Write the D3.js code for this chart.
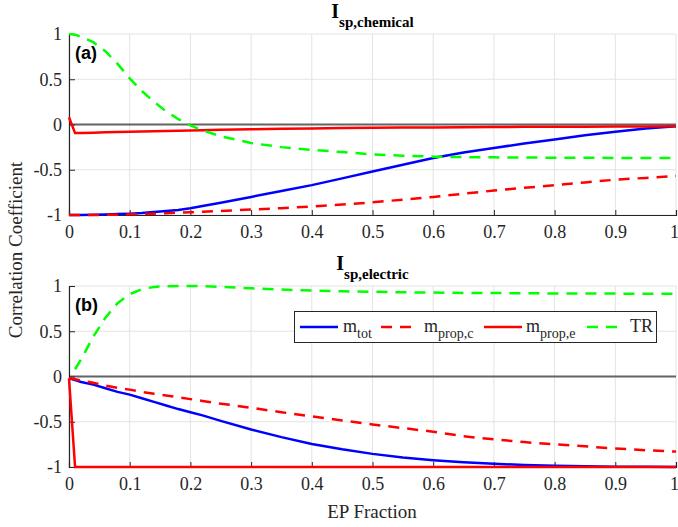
<!DOCTYPE html>
<html>
<head>
<meta charset="utf-8">
<script src="https://cdn.jsdelivr.net/npm/d3@7"></script>
<style>
  body { margin: 0; background: #fff; }
  text { font-family: 'Liberation Serif', 'Times New Roman', serif; fill: #262626; }
  .tick text { font-family: 'Liberation Serif', 'Times New Roman', serif !important; font-size: 18px; }
</style>
</head>
<body>
<div id="chart"></div>
<script>
// EP fraction sample points (shared by both panels)
var epFraction = [0, 0.01, 0.02, 0.04, 0.06, 0.08, 0.1, 0.12, 0.14, 0.16, 0.18, 0.2, 0.22, 0.25,
  0.3, 0.35, 0.4, 0.45, 0.5, 0.55, 0.6, 0.65, 0.7, 0.75, 0.8, 0.85, 0.9, 0.95, 1];

// Panel (a): Isp,chemical
var mTotChem = [-1, -1, -1, -0.998, -0.995, -0.99, -0.985, -0.978, -0.968, -0.957, -0.944, -0.925, -0.9, -0.865,
  -0.8, -0.735, -0.67, -0.595, -0.52, -0.445, -0.37, -0.31, -0.26, -0.21, -0.165, -0.12, -0.08, -0.045, -0.02];
var mPropCChem = [-1, -1, -1, -1, -0.998, -0.996, -0.993, -0.99, -0.985, -0.98, -0.975, -0.97, -0.965, -0.955,
  -0.94, -0.925, -0.905, -0.885, -0.86, -0.83, -0.8, -0.765, -0.73, -0.7, -0.67, -0.64, -0.61, -0.59, -0.57];
var mPropEChem = [0.08, -0.095, -0.093, -0.09, -0.087, -0.084, -0.081, -0.078, -0.075, -0.072, -0.069, -0.066, -0.063, -0.059,
  -0.053, -0.048, -0.044, -0.04, -0.037, -0.034, -0.032, -0.03, -0.028, -0.026, -0.025, -0.024, -0.023, -0.022, -0.02];
var trChem = [1, 0.993, 0.968, 0.91, 0.81, 0.67, 0.51, 0.37, 0.25, 0.145, 0.06, -0.01, -0.065, -0.13,
  -0.205, -0.25, -0.28, -0.305, -0.33, -0.345, -0.355, -0.36, -0.363, -0.365, -0.367, -0.368, -0.369, -0.37, -0.37];

// Panel (b): Isp,electric
var mTotElec = [-0.02, -0.04, -0.06, -0.09, -0.13, -0.17, -0.2, -0.24, -0.28, -0.32, -0.36, -0.395, -0.43, -0.49,
  -0.585, -0.67, -0.745, -0.805, -0.855, -0.895, -0.925, -0.948, -0.965, -0.977, -0.986, -0.992, -0.996, -0.998, -1];
var mPropCElec = [-0.02, -0.03, -0.045, -0.07, -0.1, -0.125, -0.145, -0.17, -0.19, -0.21, -0.23, -0.25, -0.27, -0.3,
  -0.345, -0.395, -0.44, -0.485, -0.53, -0.57, -0.61, -0.66, -0.695, -0.725, -0.75, -0.772, -0.795, -0.815, -0.83];
var mPropEElec = [-0.02, -1, -1, -1, -1, -1, -1, -1, -1, -1, -1, -1, -1, -1,
  -1, -1, -1, -1, -1, -1, -1, -1, -1, -1, -1, -1, -1, -1, -1];
var trElec = [null, 0.08, 0.19, 0.44, 0.65, 0.81, 0.91, 0.965, 0.99, 0.998, 1, 1, 0.998, 0.99,
  0.975, 0.96, 0.95, 0.942, 0.936, 0.931, 0.927, 0.924, 0.922, 0.92, 0.918, 0.917, 0.916, 0.915, 0.915];

var xTicks = [0, 0.1, 0.2, 0.3, 0.4, 0.5, 0.6, 0.7, 0.8, 0.9, 1];
var yTicks = [-1, -0.5, 0, 0.5, 1];

var seriesNames = ["tot", "prop,c", "prop,e"];

// Set up SVG
var svgWidth = 678;
var svgHeight = 527;

var svg = d3.select("#chart")
  .append("svg")
  .attr("width", svgWidth)
  .attr("height", svgHeight);

var x = d3.scaleLinear().domain([0, 1]).range([69, 676]);

var blue = "#0000ff", red = "#ff0000", green = "#00ff00";
var dashes = "11,8";

function drawPanel(top, bottom, subTitle, letter, series) {
  var y = d3.scaleLinear().domain([-1, 1]).range([bottom, top]);
  var g = svg.append("g");

  // grid
  g.selectAll(".gx").data(xTicks).enter().append("line")
    .attr("x1", d => x(d)).attr("x2", d => x(d))
    .attr("y1", top).attr("y2", bottom)
    .attr("stroke", "#e3e3e3").attr("stroke-width", 1);
  g.selectAll(".gy").data(yTicks).enter().append("line")
    .attr("x1", x(0)).attr("x2", x(1))
    .attr("y1", d => y(d)).attr("y2", d => y(d))
    .attr("stroke", "#e3e3e3").attr("stroke-width", 1);

  // zero line
  g.append("line")
    .attr("x1", x(0)).attr("x2", x(1))
    .attr("y1", y(0)).attr("y2", y(0))
    .attr("stroke", "#636363").attr("stroke-width", 2);

  // axes (ticks pointing inward), plain hyphen for negatives like the original
  var bottomAxis = d3.axisBottom(x).tickValues(xTicks).tickSize(-5).tickPadding(10)
    .tickFormat(d => String(d));
  var leftAxis = d3.axisLeft(y).tickValues(yTicks).tickSize(-6).tickPadding(12)
    .tickFormat(d => String(d));

  var xa = g.append("g").attr("transform", `translate(0, ${bottom})`).call(bottomAxis);
  var ya = g.append("g").attr("transform", `translate(${x(0)}, 0)`).call(leftAxis);
  [xa, ya].forEach(function(a) {
    a.attr("font-family", null).attr("font-size", null);
    a.select(".domain").attr("stroke", "#262626").attr("stroke-width", 1.2);
    a.selectAll(".tick line").attr("stroke", "#262626");
    a.selectAll(".tick text").attr("fill", "#262626");
  });
  ya.selectAll(".tick text").attr("x", -7);
  xa.selectAll(".tick text").filter(d => d === 1).attr("dx", -2);

  // curves
  var line = d3.line()
    .defined(d => d[1] !== null)
    .x(d => x(d[0]))
    .y(d => y(d[1]));

  series.forEach(function(s) {
    g.append("path")
      .datum(epFraction.map((e, i) => [e, s.values[i]]))
      .attr("fill", "none")
      .attr("stroke", s.color)
      .attr("stroke-width", 2.5)
      .attr("stroke-dasharray", s.dash ? dashes : null)
      .attr("d", line);
  });

  // title
  var t = svg.append("text")
    .attr("x", (x(0) + x(1)) / 2)
    .attr("y", top - 16)
    .attr("text-anchor", "middle")
    .style("font-weight", "bold")
    .style("font-size", "20px")
    .style("fill", "#000");
  t.append("tspan").text("I");
  t.append("tspan").attr("dy", 9).style("font-size", "15px").text(subTitle);

  // panel letter
  svg.append("text")
    .attr("x", 75)
    .attr("y", top + 25)
    .style("font-family", "'Liberation Sans', Arial, sans-serif")
    .style("font-weight", "bold")
    .style("font-size", "18px")
    .style("fill", "#000")
    .text(letter);

  return y;
}

drawPanel(34, 215, "sp,chemical", "(a)", [
  { values: mTotChem, color: blue, dash: false },
  { values: mPropCChem, color: red, dash: true },
  { values: mPropEChem, color: red, dash: false },
  { values: trChem, color: green, dash: true }
]);

drawPanel(286, 467, "sp,electric", "(b)", [
  { values: mTotElec, color: blue, dash: false },
  { values: mPropCElec, color: red, dash: true },
  { values: mPropEElec, color: red, dash: false },
  { values: trElec, color: green, dash: true }
]);

// axis labels
svg.append("text")
  .attr("x", 372)
  .attr("y", 518)
  .attr("text-anchor", "middle")
  .style("font-size", "19px")
  .text("EP Fraction");

svg.append("text")
  .attr("transform", "translate(22, 250) rotate(-90)")
  .attr("text-anchor", "middle")
  .style("font-size", "19px")
  .text("Correlation Coefficient");

// legend
var legend = svg.append("g");
legend.append("rect")
  .attr("x", 294.5).attr("y", 311.5)
  .attr("width", 362).attr("height", 31)
  .attr("fill", "#fff").attr("stroke", "#262626").attr("stroke-width", 1);

var legendItems = [
  { name: "m", sub: seriesNames[0], color: blue, dash: false, x0: 300, tx: 343 },
  { name: "m", sub: seriesNames[1], color: red, dash: true, x0: 381, tx: 424 },
  { name: "m", sub: seriesNames[2], color: red, dash: false, x0: 484, tx: 526 },
  { name: "TR", sub: null, color: green, dash: true, x0: 587, tx: 630 }
];

legendItems.forEach(function(d) {
  legend.append("line")
    .attr("x1", d.x0).attr("x2", d.x0 + 38)
    .attr("y1", 327).attr("y2", 327)
    .attr("stroke", d.color)
    .attr("stroke-width", 2.5)
    .attr("stroke-dasharray", d.dash ? dashes : null);
  var lt = legend.append("text")
    .attr("x", d.tx).attr("y", 332)
    .style("font-size", "18px");
  lt.append("tspan").text(d.name);
  if (d.sub) {
    lt.append("tspan").attr("dy", 6).style("font-size", "14px").text(d.sub);
  }
});
</script>
</body>
</html>
